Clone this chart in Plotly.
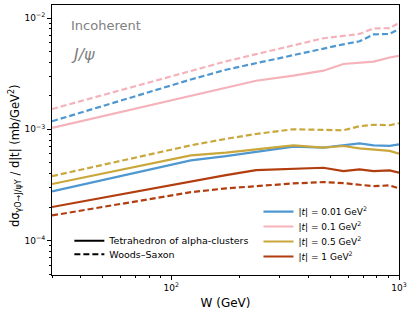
import plotly.graph_objects as go

# W grid (GeV)
W = [30, 49, 81, 122, 174, 236, 344, 466, 570, 671, 774, 910, 1000]

# Tetrahedron of alpha-clusters (solid)
tetra_001 = [2.76e-4, 3.45e-4, 4.36e-4, 5.25e-4, 5.74e-4, 6.27e-4, 6.98e-4, 6.84e-4, 7.22e-4, 7.47e-4, 7.17e-4, 7.10e-4, 7.32e-4]
tetra_01 = [1.03e-3, 1.30e-3, 1.66e-3, 2.01e-3, 2.37e-3, 2.73e-3, 3.03e-3, 3.36e-3, 3.86e-3, 3.96e-3, 4.06e-3, 4.42e-3, 4.56e-3]
tetra_05 = [3.22e-4, 3.96e-4, 4.90e-4, 5.83e-4, 6.16e-4, 6.60e-4, 7.17e-4, 6.84e-4, 7.07e-4, 6.74e-4, 6.60e-4, 6.40e-4, 6.03e-4]
tetra_1 = [2.00e-4, 2.40e-4, 2.92e-4, 3.42e-4, 3.87e-4, 4.29e-4, 4.42e-4, 4.51e-4, 4.20e-4, 4.36e-4, 4.20e-4, 4.27e-4, 4.07e-4]

# Woods-Saxon (dashed)
ws_001 = [1.18e-3, 1.60e-3, 2.18e-3, 2.80e-3, 3.43e-3, 3.93e-3, 4.66e-3, 5.35e-3, 5.80e-3, 6.18e-3, 7.12e-3, 7.19e-3, 7.98e-3]
ws_01 = [1.52e-3, 2.00e-3, 2.66e-3, 3.34e-3, 4.08e-3, 4.73e-3, 5.68e-3, 6.58e-3, 6.90e-3, 7.19e-3, 8.07e-3, 8.10e-3, 9.04e-3]
ws_05 = [3.79e-4, 4.73e-4, 5.96e-4, 7.17e-4, 8.21e-4, 9.07e-4, 1.00e-3, 9.90e-4, 9.79e-4, 1.064e-3, 1.098e-3, 1.087e-3, 1.133e-3]
ws_1 = [1.68e-4, 1.99e-4, 2.37e-4, 2.72e-4, 2.94e-4, 3.08e-4, 3.26e-4, 3.35e-4, 3.28e-4, 3.17e-4, 3.08e-4, 3.13e-4, 2.94e-4]

t_labels = ["|<i>t</i>| = 0.01 GeV<sup>2</sup>", "|<i>t</i>| = 0.1 GeV<sup>2</sup>",
            "|<i>t</i>| = 0.5 GeV<sup>2</sup>", "|<i>t</i>| = 1 GeV<sup>2</sup>"]
colors = ["#4f97d0", "#f5b2ba", "#c9a73a", "#b23d0e"]
style_labels = ["Tetrahedron of alpha-clusters", "Woods\u2013Saxon"]

x_major = [100, 1000]
x_major_text = ["10<sup>2</sup>", "10<sup>3</sup>"]
y_major = [1e-4, 1e-3, 1e-2]
y_major_text = ["10<sup>\u22124</sup>", "10<sup>\u22123</sup>", "10<sup>\u22122</sup>"]

x_minor = [30, 40, 50, 60, 70, 80, 90, 200, 300, 400, 500, 600, 700, 800, 900]
y_minor = [m * 10.0 ** e for e in (-5, -4, -3) for m in range(2, 10)]

fig = go.Figure()

tetra = [tetra_001, tetra_01, tetra_05, tetra_1]
ws = [ws_001, ws_01, ws_05, ws_1]

for i in range(4):
    fig.add_trace(go.Scatter(x=W, y=ws[i], mode="lines",
                             line=dict(color=colors[i], width=2.2, dash="6px,3px"),
                             showlegend=False, hoverinfo="skip"))

t_legends = ["legend", "legend2", "legend3", "legend4"]
for i in range(4):
    fig.add_trace(go.Scatter(x=W, y=tetra[i], mode="lines",
                             line=dict(color=colors[i], width=2.2),
                             name=t_labels[i], legend=t_legends[i]))

# style legend
fig.add_trace(go.Scatter(x=[None], y=[None], mode="lines",
                         line=dict(color="black", width=2), name=style_labels[0], legend="legend5"))
fig.add_trace(go.Scatter(x=[None], y=[None], mode="lines",
                         line=dict(color="black", width=2, dash="6px,3px"), name=style_labels[1], legend="legend6"))

font = "DejaVu Sans, sans-serif"


def leg(x, y, size):
    return dict(x=x, y=y, xanchor="left", yanchor="middle",
                bgcolor="rgba(255,255,255,0)", font=dict(size=size),
                tracegroupgap=0, itemwidth=30)


fig.update_layout(
    width=413, height=312,
    margin=dict(l=52, r=14, t=5, b=37),
    paper_bgcolor="white", plot_bgcolor="white",
    font=dict(family=font, size=10, color="black"),
    xaxis=dict(type="log", range=[1.477, 3.0],
               tickmode="array", tickvals=x_major, ticktext=x_major_text,
               ticks="outside", ticklen=4, tickwidth=1, tickcolor="black",
               minor=dict(tickmode="array", tickvals=x_minor, ticks="outside", ticklen=2, tickcolor="black"),
               showgrid=False, zeroline=False,
               showline=True, linecolor="black", linewidth=1, mirror=True,
               title=dict(text="W (GeV)", font=dict(size=12), standoff=6),
               tickfont=dict(size=9)),
    yaxis=dict(type="log", range=[-4.31, -1.883],
               tickmode="array", tickvals=y_major, ticktext=y_major_text,
               ticks="outside", ticklen=4, tickwidth=1, tickcolor="black",
               minor=dict(tickmode="array", tickvals=y_minor, ticks="outside", ticklen=2, tickcolor="black"),
               showgrid=False, zeroline=False,
               showline=True, linecolor="black", linewidth=1, mirror=True,
               tickfont=dict(size=9)),
    legend=leg(0.595, 0.235, 9),
    legend2=leg(0.595, 0.1796, 9),
    legend3=leg(0.595, 0.1241, 9),
    legend4=leg(0.595, 0.0685, 9),
    legend5=leg(0.05, 0.127, 9.5),
    legend6=leg(0.05, 0.0767, 9.5),
    annotations=[
        dict(text="Incoherent", xref="paper", yref="paper", x=0.05, y=0.925,
             xanchor="left", yanchor="middle", showarrow=False,
             font=dict(size=13, color="#808080")),
        dict(text="<i>J/\u03c8</i>", xref="paper", yref="paper", x=0.05, y=0.815,
             xanchor="left", yanchor="middle", showarrow=False,
             font=dict(size=16, color="#808080")),
        dict(text="d\u03c3<sub>\u03b3O\u2192J/\u03c8Y</sub> / d|t| (mb/GeV<sup>2</sup>)",
             xref="paper", yref="paper", x=-0.107, y=0.444, textangle=-90,
             xanchor="center", yanchor="middle", showarrow=False,
             font=dict(size=11.5, color="black")),
    ],
)

fig.write_html("out.html", post_script="document.body.style.margin='0px';",
               config={"displayModeBar": False})
